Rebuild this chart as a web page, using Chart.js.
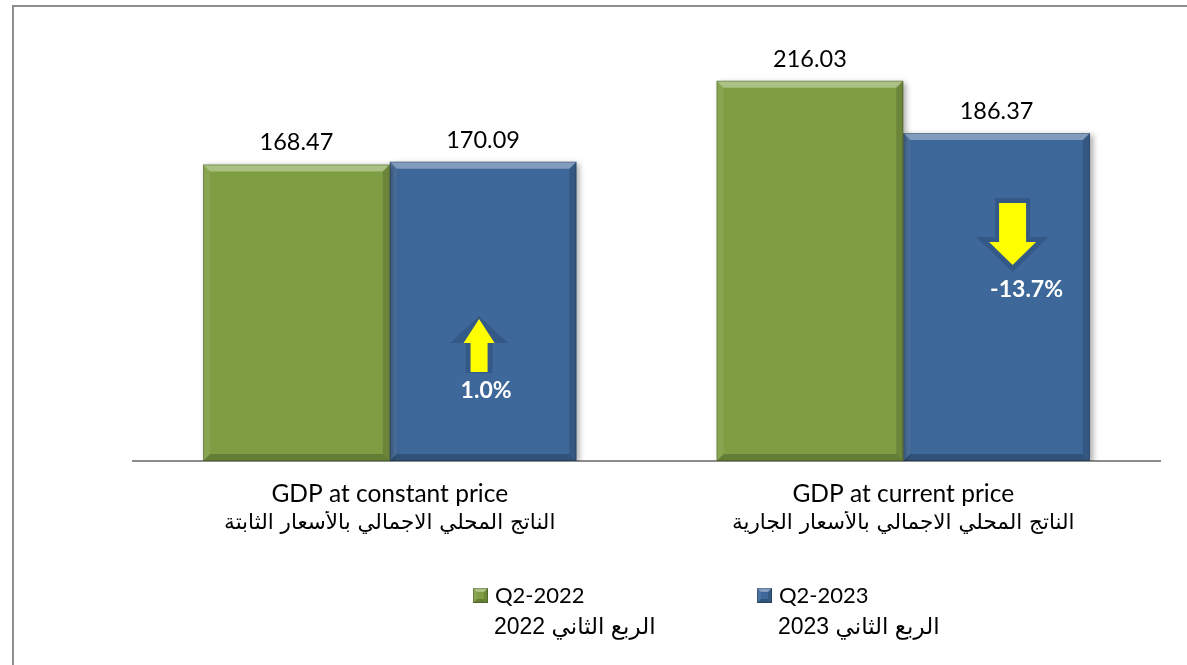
<!DOCTYPE html>
<html>
<head>
<meta charset="utf-8">
<script src="https://cdn.jsdelivr.net/npm/chart.js@4.4.1/dist/chart.umd.min.js"></script>
<style>
  html, body { margin: 0; padding: 0; background: #fff; }
  #wrap { width: 1187px; height: 665px; }
</style>
</head>
<body>
<div id="wrap"><canvas id="gdpChart" width="1187" height="665"></canvas></div>
<script>
// chart values
const categoriesEn = ['GDP at constant price', 'GDP at current price'];
const categoriesAr = ['الناتج المحلي الاجمالي بالأسعار الثابتة', 'الناتج المحلي الاجمالي بالأسعار الجارية'];
const seriesNames = ['Q2-2022', 'Q2-2023'];
const seriesNamesAr = ['الربع الثاني 2022', 'الربع الثاني 2023'];
const q2_2022 = [168.47, 216.03];
const q2_2023 = [170.09, 186.37];
const changeLabels = ['1.0%', '-13.7%'];
const changeDirection = ['up', 'down'];

const GREEN = '#7f9e44';
const BLUE = '#3e6899';

// arrow look, relative to the Q2-2023 bar centre
const arrowStyle = [
  { dx: -4, top: 319, headW: 31, headH: 24, shaftW: 17, len: 53,
    glow: { dx: -4, top: 316, headW: 58, headH: 27, shaftW: 27, len: 57 },
    text: { dx: 3, y: 391 } },
  { dx: 16, top: 203, headW: 47, headH: 23, shaftW: 27, len: 62,
    glow: { dx: 16, top: 198, headW: 73, headH: 35, shaftW: 35, len: 74 },
    text: { dx: 30, y: 290 } }
];

function arrowPath(ctx, cx, top, a, dir) {
  const hw = a.headW / 2, sw = a.shaftW / 2;
  ctx.beginPath();
  if (dir == 'up') {
    ctx.moveTo(cx, top);
    ctx.lineTo(cx + hw, top + a.headH);
    ctx.lineTo(cx + sw, top + a.headH);
    ctx.lineTo(cx + sw, top + a.len);
    ctx.lineTo(cx - sw, top + a.len);
    ctx.lineTo(cx - sw, top + a.headH);
    ctx.lineTo(cx - hw, top + a.headH);
  } else {
    const hb = top + a.len - a.headH;
    ctx.moveTo(cx - sw, top);
    ctx.lineTo(cx + sw, top);
    ctx.lineTo(cx + sw, hb);
    ctx.lineTo(cx + hw, hb);
    ctx.lineTo(cx, top + a.len);
    ctx.lineTo(cx - hw, hb);
    ctx.lineTo(cx - sw, hb);
  }
  ctx.closePath();
}

function poly(ctx, pts, fill) {
  ctx.beginPath();
  ctx.moveTo(pts[0][0], pts[0][1]);
  for (let i = 1; i < pts.length; i++) ctx.lineTo(pts[i][0], pts[i][1]);
  ctx.closePath();
  ctx.fillStyle = fill;
  ctx.fill();
}

function bevelBox(ctx, l, t, r, b, e) {
  poly(ctx, [[l, t], [r, t], [r - e, t + e], [l + e, t + e]], 'rgba(255,255,255,0.35)');
  poly(ctx, [[l, t], [l + e, t + e], [l + e, b - e], [l, b]], 'rgba(255,255,255,0.08)');
  poly(ctx, [[r, t], [r, b], [r - e, b - e], [r - e, t + e]], 'rgba(0,0,0,0.15)');
  poly(ctx, [[l, b], [l + e, b - e], [r - e, b - e], [r, b]], 'rgba(0,0,0,0.20)');
  ctx.strokeStyle = 'rgba(0,0,0,0.22)';
  ctx.lineWidth = 1;
  ctx.strokeRect(l + 0.5, t + 0.5, r - l - 1, b - t - 1);
}

// white page + grey frame
const framePlugin = {
  id: 'frame',
  beforeDraw(chart) {
    const ctx = chart.ctx;
    ctx.save();
    ctx.fillStyle = '#fff';
    ctx.fillRect(0, 0, chart.width, chart.height);
    ctx.strokeStyle = '#8e8e8e';
    ctx.lineWidth = 2;
    ctx.beginPath();
    ctx.moveTo(13, chart.height);
    ctx.lineTo(13, 6);
    ctx.lineTo(chart.width, 6);
    ctx.stroke();
    ctx.restore();
  }
};

// soft shadow under bars
const shadowPlugin = {
  id: 'barShadow',
  beforeDatasetDraw(chart) {
    const ctx = chart.ctx;
    ctx.save();
    ctx.shadowColor = 'rgba(0,0,0,0.35)';
    ctx.shadowBlur = 6;
    ctx.shadowOffsetX = 3;
    ctx.shadowOffsetY = 2;
  },
  afterDatasetDraw(chart) {
    chart.ctx.restore();
  }
};

const bevelPlugin = {
  id: 'bevel',
  afterDatasetsDraw(chart) {
    const ctx = chart.ctx;
    ctx.save();
    chart.data.datasets.forEach((ds, di) => {
      chart.getDatasetMeta(di).data.forEach(bar => {
        const p = bar.getProps(['x', 'y', 'base', 'width'], true);
        bevelBox(ctx, p.x - p.width / 2, p.y, p.x + p.width / 2, p.base, 7);
      });
    });
    ctx.restore();
  }
};

const valueLabels = {
  id: 'valueLabels',
  afterDatasetsDraw(chart) {
    const ctx = chart.ctx;
    ctx.save();
    ctx.font = '23.5px Lato';
    ctx.fillStyle = '#000';
    ctx.textAlign = 'center';
    ctx.textBaseline = 'alphabetic';
    chart.data.datasets.forEach((ds, di) => {
      chart.getDatasetMeta(di).data.forEach((bar, i) => {
        ctx.fillText(ds.data[i].toFixed(2), bar.x, bar.y - 14);
      });
    });
    ctx.restore();
  }
};

const changeArrows = {
  id: 'changeArrows',
  afterDatasetsDraw(chart) {
    const ctx = chart.ctx;
    const bars = chart.getDatasetMeta(1).data;
    ctx.save();
    bars.forEach((bar, i) => {
      const a = arrowStyle[i];
      arrowPath(ctx, bar.x + a.glow.dx, a.glow.top, a.glow, changeDirection[i]);
      ctx.fillStyle = 'rgba(25,45,80,0.25)';
      ctx.fill();
      arrowPath(ctx, bar.x + a.dx, a.top, a, changeDirection[i]);
      ctx.fillStyle = '#ffff00';
      ctx.fill();
      ctx.font = 'bold 23px Lato';
      ctx.fillStyle = '#fff';
      ctx.textAlign = 'center';
      ctx.textBaseline = 'middle';
      ctx.fillText(changeLabels[i], bar.x + a.text.dx, a.text.y);
    });
    ctx.restore();
  }
};

// two-line legend (English + Arabic)
const legendItems = [{ x: 473, y: 588 }, { x: 757, y: 588 }];
const bilingualLegend = {
  id: 'bilingualLegend',
  afterDraw(chart) {
    const ctx = chart.ctx;
    ctx.save();
    chart.data.datasets.forEach((ds, di) => {
      const pos = legendItems[di];
      ctx.fillStyle = ds.backgroundColor;
      ctx.fillRect(pos.x, pos.y, 15, 15);
      bevelBox(ctx, pos.x, pos.y, pos.x + 15, pos.y + 15, 4);
      ctx.fillStyle = '#000';
      ctx.textBaseline = 'alphabetic';
      ctx.textAlign = 'left';
      ctx.direction = 'ltr';
      ctx.font = '22px Lato';
      ctx.fillText(seriesNames[di], pos.x + 22, pos.y + 15);
      ctx.direction = 'rtl';
      ctx.font = '23px "Liberation Sans", "DejaVu Sans"';
      ctx.fillText(seriesNamesAr[di], pos.x + 21, pos.y + 46);
    });
    ctx.restore();
  }
};

const ctx = document.getElementById('gdpChart');

const gdpChart = new Chart(ctx, {
  type: 'bar',
  plugins: [framePlugin, shadowPlugin, bevelPlugin, valueLabels, changeArrows, bilingualLegend],
  data: {
    labels: categoriesEn,
    datasets: [
      {
        label: seriesNames[0],
        data: q2_2022,
        backgroundColor: GREEN,
        borderWidth: 0
      },
      {
        label: seriesNames[1],
        data: q2_2023,
        backgroundColor: BLUE,
        borderWidth: 0
      }
    ]
  },
  options: {
    responsive: false,
    animation: false,
    devicePixelRatio: 1,
    layout: {
      padding: { left: 133, right: 27, top: 21, bottom: 114 }
    },
    datasets: {
      bar: { categoryPercentage: 0.727, barPercentage: 1.0 }
    },
    scales: {
      x: {
        weight: 0,
        grid: { display: false, drawTicks: false },
        border: { display: true, color: '#8c8c8c', width: 2 },
        ticks: {
          color: '#000',
          padding: 18,
          maxRotation: 0,
          autoSkip: false,
          font: { family: 'Lato', size: 24.5, lineHeight: 1.2 }
        },
        afterFit: (scale) => { scale.height = 50; }
      },
      // second row of category labels, in Arabic
      xAr: {
        type: 'category',
        labels: categoriesAr,
        position: 'bottom',
        weight: 1,
        offset: true,
        grid: { display: false, drawTicks: false },
        border: { display: false },
        ticks: {
          color: '#000',
          padding: 0,
          maxRotation: 0,
          autoSkip: false,
          font: { family: '"DejaVu Sans"', size: 21.5, lineHeight: 1.2 }
        },
        afterFit: (scale) => { scale.height = 40; }
      },
      y: {
        display: false,
        min: 0,
        max: 250
      }
    },
    plugins: {
      legend: { display: false },
      tooltip: { enabled: false }
    }
  }
});
</script>
</body>
</html>
